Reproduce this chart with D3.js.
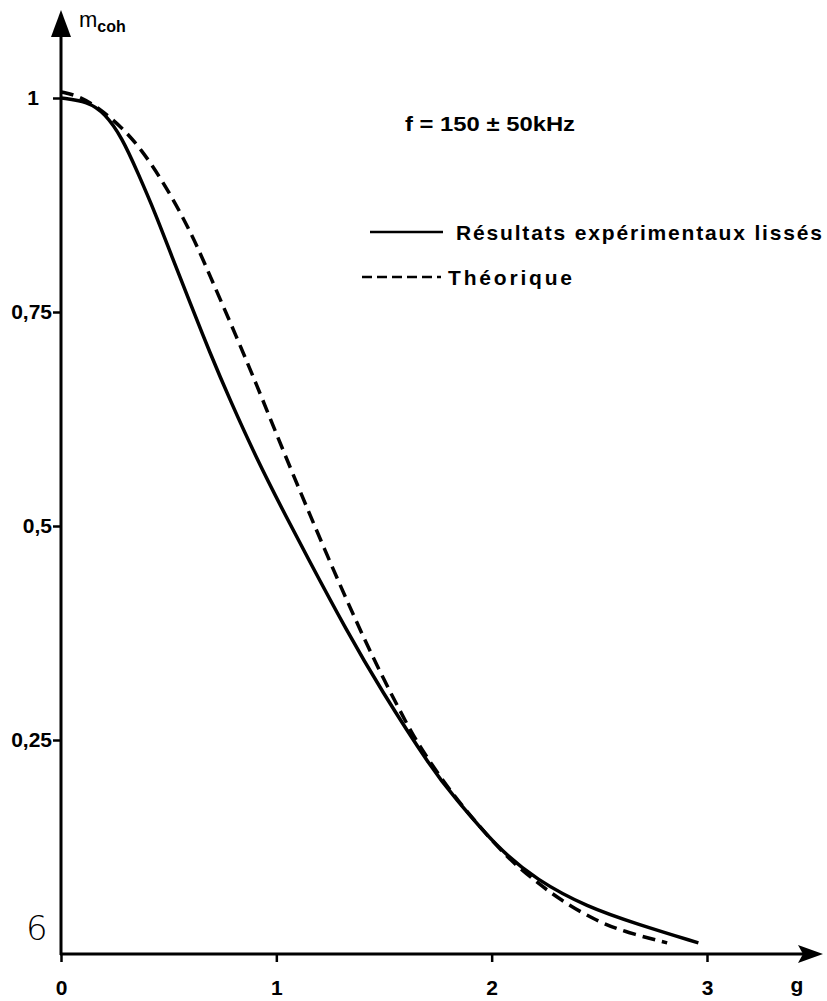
<!DOCTYPE html>
<html>
<head>
<meta charset="utf-8">
<script src="https://cdn.jsdelivr.net/npm/d3@7"></script>
<style>
  body { margin: 0; background: #fff; }
  svg text { font-family: "Liberation Sans", Arial, sans-serif; font-weight: bold; fill: #000; }
</style>
</head>
<body>
<div id="chart"></div>
<script>
// data (g, m_coh)
const experimental = [
  [0, 1.0], [0.125, 0.996], [0.204, 0.982], [0.283, 0.954], [0.358, 0.912],
  [0.437, 0.866], [0.516, 0.814], [0.599, 0.761], [0.692, 0.702], [0.785, 0.647],
  [0.91, 0.578], [1.031, 0.518], [1.143, 0.464], [1.328, 0.377], [1.482, 0.31],
  [1.728, 0.214], [1.821, 0.185], [2.025, 0.124], [2.211, 0.086], [2.443, 0.055],
  [2.675, 0.035], [2.96, 0.013]
];
const theoretical = [
  [0, 1.007], [0.079, 1.003], [0.172, 0.989], [0.283, 0.966], [0.376, 0.939],
  [0.469, 0.904], [0.562, 0.863], [0.636, 0.825], [0.701, 0.787], [0.817, 0.72],
  [0.91, 0.664], [1.003, 0.606], [1.096, 0.549], [1.235, 0.466], [1.375, 0.386],
  [1.482, 0.329], [1.607, 0.268], [1.681, 0.236], [1.82, 0.186], [1.95, 0.147],
  [2.072, 0.113], [2.178, 0.09], [2.318, 0.063], [2.49, 0.038], [2.629, 0.025],
  [2.815, 0.013]
];
const xTicks = [0, 1, 2, 3];
const yTicks = [0.25, 0.5, 0.75, 1];
const legendLabels = ["Résultats expérimentaux lissés", "Théorique"];

const width = 827, height = 1001;

const svg = d3.select('#chart')
  .append('svg')
  .attr('width', width)
  .attr('height', height);

const x = d3.scaleLinear().domain([0, 3]).range([61, 707]);
const y = d3.scaleLinear().domain([0, 1]).range([954, 98]);

// axes
const xAxis = svg.append('g')
  .attr('transform', `translate(0,${y(0)})`)
  .call(d3.axisBottom(x).tickValues(xTicks).tickSize(8).tickPadding(18).tickFormat(d3.format('d')));
const yAxis = svg.append('g')
  .attr('transform', `translate(${x(0)},0)`)
  .call(d3.axisLeft(y).tickValues(yTicks).tickSize(8).tickPadding(1)
    .tickFormat(d => d === 1 ? '1' : String(d).replace('0.', '0,')));

[xAxis, yAxis].forEach(a => {
  a.select('.domain').remove();
  a.selectAll('.tick line').attr('stroke', '#000').attr('stroke-width', 2.5);
  a.selectAll('.tick text').style('font-size', '21px');
});
yAxis.selectAll('.tick text').filter(d => d === 1).attr('x', -22);

// axis lines with arrows
svg.append('line')
  .attr('x1', x(0)).attr('x2', x(0)).attr('y1', y(0) + 1).attr('y2', 30)
  .attr('stroke', '#000').attr('stroke-width', 3);
svg.append('path')
  .attr('d', `M${x(0)},10 L${x(0) - 10},37 L${x(0) + 10},37 Z`)
  .attr('fill', '#000');
svg.append('line')
  .attr('x1', x(0) - 1).attr('x2', 805).attr('y1', y(0)).attr('y2', y(0))
  .attr('stroke', '#000').attr('stroke-width', 3);
svg.append('path')
  .attr('d', `M823,${y(0)} L798,${y(0) - 9} L803,${y(0)} L798,${y(0) + 9} Z`)
  .attr('fill', '#000');

// axis titles
const yTitle = svg.append('text').attr('x', 79).attr('y', 27).style('font-size', '22px').style('font-weight', 'normal');
yTitle.append('tspan').text('m');
yTitle.append('tspan').attr('dy', 5).style('font-size', '16px').style('font-weight', 'bold').text('coh');
svg.append('text').attr('x', 797).attr('y', 992).attr('text-anchor', 'middle')
  .style('font-size', '21px').text('g');

// curves
const line = d3.line()
  .x(d => x(d[0]))
  .y(d => y(d[1]))
  .curve(d3.curveBasis);

svg.append('path')
  .datum(experimental)
  .attr('d', line)
  .attr('fill', 'none')
  .attr('stroke', '#000')
  .attr('stroke-width', 3.5);

svg.append('path')
  .datum(theoretical)
  .attr('d', line)
  .attr('fill', 'none')
  .attr('stroke', '#000')
  .attr('stroke-width', 3.5)
  .attr('stroke-dasharray', '13,7');

// annotation
svg.append('text').attr('x', 405).attr('y', 131)
  .attr('textLength', 170).attr('lengthAdjust', 'spacingAndGlyphs')
  .style('font-size', '20px').text('f = 150 ± 50kHz');

// legend
svg.append('line').attr('x1', 370).attr('x2', 443).attr('y1', 232).attr('y2', 232)
  .attr('stroke', '#000').attr('stroke-width', 2.5);
svg.append('text').attr('x', 456).attr('y', 240)
  .attr('textLength', 366).attr('lengthAdjust', 'spacing')
  .style('font-size', '21px').text(legendLabels[0]);
svg.append('line').attr('x1', 362).attr('x2', 441).attr('y1', 277).attr('y2', 277)
  .attr('stroke', '#000').attr('stroke-width', 2.5).attr('stroke-dasharray', '10,5');
svg.append('text').attr('x', 448).attr('y', 285)
  .attr('textLength', 124).attr('lengthAdjust', 'spacing')
  .style('font-size', '21px').text(legendLabels[1]);

// page number
svg.append('text').attr('x', 26).attr('y', 940)
  .style('font-family', '"DejaVu Sans", sans-serif').style('font-weight', '200')
  .style('font-size', '34px').text('6');
</script>
</body>
</html>
